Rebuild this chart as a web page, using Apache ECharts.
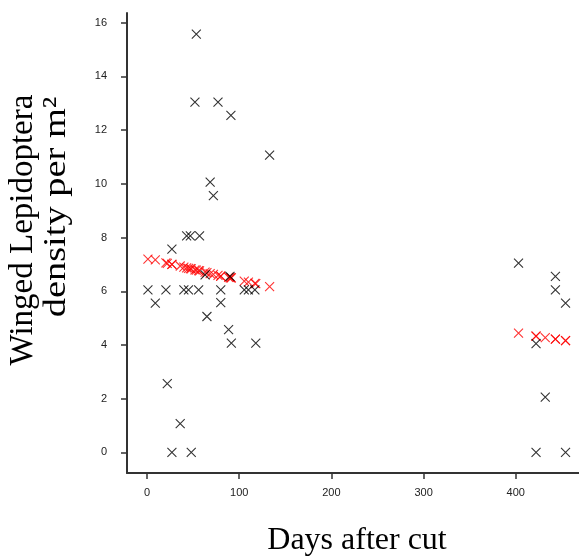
<!DOCTYPE html>
<html>
<head>
<meta charset="utf-8">
<script src="https://cdn.jsdelivr.net/npm/echarts@6/dist/echarts.min.js"></script>
<style>html,body{margin:0;padding:0;background:#fff}#c{width:579px;height:559px}</style>
</head>
<body>
<div id="c"></div>
<script>
// Days after cut for each observation
var days = [1, 9, 20.5, 22, 27, 27, 36, 40, 43, 45, 47, 48, 52, 53.5, 56, 57, 63, 65, 68.5, 72, 77, 80, 80, 88.5, 90, 91, 91.5, 105.5, 110, 117, 118, 133,
            403, 422, 422, 432, 443, 443, 454, 454];
// Observed density (black crosses)
var observed = [6.05, 5.56, 6.05, 2.56, 7.57, 0, 1.07, 6.05, 8.06, 6.05, 8.06, 0, 13.04, 15.57, 6.05, 8.06, 6.61, 5.06, 10.06, 9.56, 13.04, 6.05, 5.58, 4.57, 6.55, 12.55, 4.07, 6.05, 6.05, 6.05, 4.07, 11.07,
                7.05, 4.05, 0, 2.06, 6.55, 6.05, 5.56, 0];
// Fitted density (red crosses)
var fitted = [7.20, 7.17, 7.06, 7.04, 7.00, 7.00, 6.94, 6.90, 6.87, 6.85, 6.84, 6.83, 6.80, 6.79, 6.77, 6.76, 6.71, 6.69, 6.66, 6.63, 6.59, 6.56, 6.56, 6.52, 6.51, 6.50, 6.50, 6.38, 6.34, 6.29, 6.28, 6.17,
              4.44, 4.33, 4.33, 4.27, 4.22, 4.22, 4.16, 4.16];
var xTicks = [0, 100, 200, 300, 400];
var yTicks = [0, 2, 4, 6, 8, 10, 12, 14, 16];
var xTitle = 'Days after cut';
var yTitle1 = 'Winged Lepidoptera';
var yTitle2 = 'density per m\u00b2';

var obsData = days.map(function (d, i) { return [d, observed[i]]; });
var fitData = days.map(function (d, i) { return [d, fitted[i]]; });
var cross = 'path://M0,0L10,10M10,0L0,10';

var chart = echarts.init(document.getElementById('c'), null, {renderer: 'canvas'});
function axisStyle(ticks, margin) {
  return {
    axisLine: {show: true, onZero: false, lineStyle: {color: '#333', width: 2}},
    axisTick: {show: true, inside: false, length: 6, customValues: ticks, lineStyle: {color: '#333', width: 1.5}},
    splitLine: {show: false},
    axisLabel: {customValues: ticks, margin: margin, color: '#222', fontSize: 11, fontFamily: 'Liberation Sans'}
  };
}
var xa = axisStyle(xTicks, 14); xa.type = 'value'; xa.min = -21.7; xa.max = 468.6;
var ya = axisStyle(yTicks, 20); ya.type = 'value'; ya.min = -0.767; ya.max = 16.36;
chart.setOption({
  animation: false,
  backgroundColor: '#fff',
  grid: {left: 127, right: 0, top: 13, bottom: 86, containLabel: false},
  xAxis: xa,
  yAxis: ya,
  graphic: [
    {type: 'text', x: 357, y: 541, style: {text: xTitle, font: '32px "Liberation Serif"', fill: '#000', align: 'center', verticalAlign: 'middle'}},
    {type: 'text', x: 23, y: 230, rotation: Math.PI / 2, style: {text: yTitle1, font: '33px "Liberation Serif"', fill: '#000', align: 'center', verticalAlign: 'middle'}},
    {type: 'text', x: 57, y: 207, rotation: Math.PI / 2, scaleX: 1.2, style: {text: yTitle2, font: '32px "Liberation Serif"', fill: '#000', align: 'center', verticalAlign: 'middle'}}
  ],
  series: [
    {type: 'scatter', data: fitData, symbol: cross, symbolSize: 9,
     itemStyle: {color: 'rgba(0,0,0,0)', borderColor: '#ff0000', borderWidth: 1.1}, silent: true},
    {type: 'scatter', data: obsData, symbol: cross, symbolSize: 9,
     itemStyle: {color: 'rgba(0,0,0,0)', borderColor: '#000', borderWidth: 1.1}, silent: true}
  ]
});
</script>
</body>
</html>
